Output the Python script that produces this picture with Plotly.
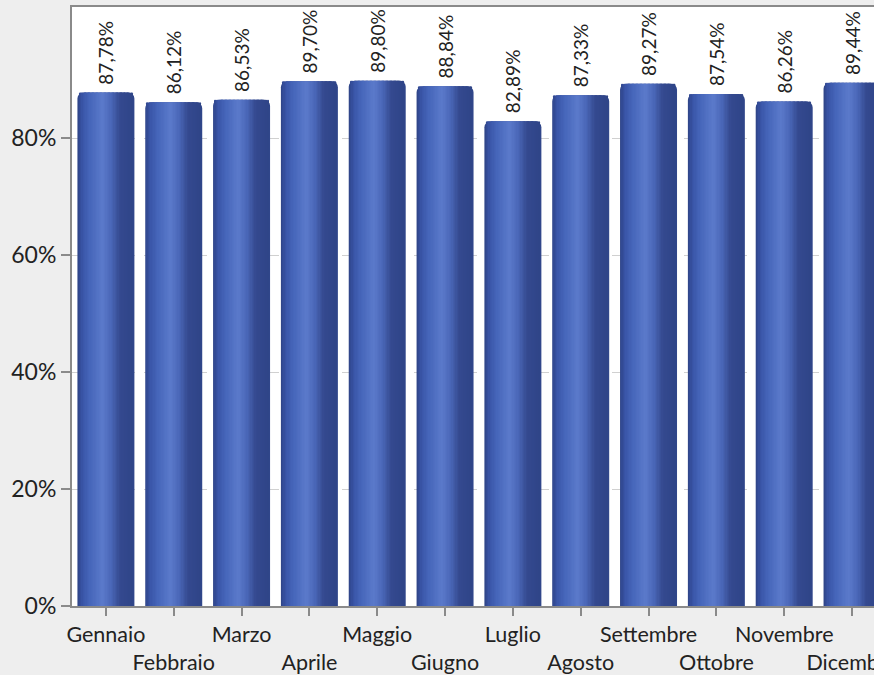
import plotly.graph_objects as go

months = ["Gennaio", "Febbraio", "Marzo", "Aprile", "Maggio", "Giugno",
          "Luglio", "Agosto", "Settembre", "Ottobre", "Novembre", "Dicembre"]
values = [87.78, 86.12, 86.53, 89.70, 89.80, 88.84,
          82.89, 87.33, 89.27, 87.54, 86.26, 89.44]
labels = [" " + f"{v:.2f}".replace(".", ",") + "%" for v in values]
ytick_vals = [0, 20, 40, 60, 80]
ytick_text = ["0%", "20%", "40%", "60%", "80%"]

BAR_W = 0.84

# horizontal gradient stops (fraction across bar, rgb)
stops = [(0.00, (44, 66, 133)), (0.10, (58, 85, 168)), (0.22, (69, 101, 185)),
         (0.45, (91, 122, 203)), (0.60, (74, 103, 184)), (0.76, (52, 73, 143)),
         (1.00, (46, 68, 135))]


def color_at(f):
    for (f0, c0), (f1, c1) in zip(stops[:-1], stops[1:]):
        if f0 <= f <= f1:
            t = (f - f0) / (f1 - f0) if f1 > f0 else 0
            return "rgb(%d,%d,%d)" % tuple(round(a + (b - a) * t) for a, b in zip(c0, c1))
    return "rgb(%d,%d,%d)" % stops[-1][1]


x = list(range(len(months)))
fig = go.Figure()

# outer bar (dark, rounded corners) carrying the labels
fig.add_trace(go.Bar(
    x=x, y=values, width=BAR_W, marker=dict(color=color_at(0.9), cornerradius=6, line=dict(width=0)),
    text=labels, textposition="outside", textangle=-90, constraintext="none",
    textfont=dict(family="Lato", size=19, color="#222222"),
    cliponaxis=False, hoverinfo="skip", showlegend=False,
))

# gradient strips inside
n = 40
f_lo, f_hi = 0.03, 0.97
step = (f_hi - f_lo) / n
for i in range(n):
    fa = f_lo + i * step
    fc = fa + step / 2
    fig.add_trace(go.Bar(
        x=x, y=values, width=step * BAR_W * 1.05, offset=-BAR_W / 2 + fa * BAR_W,
        marker=dict(color=color_at(fc), line=dict(width=0),
                    cornerradius=6 if (fc < 0.12 or fc > 0.88) else 0),
        hoverinfo="skip", showlegend=False,
    ))

fig.update_layout(
    width=874, height=675,
    barmode="overlay",
    paper_bgcolor="#eeeeee", plot_bgcolor="#ffffff",
    margin=dict(l=72, r=0, t=7, b=69, autoexpand=False),
    font=dict(family="Lato", color="#222222"),
    showlegend=False,
)
fig.update_xaxes(
    range=[-0.5, 11.324], tickmode="array", tickvals=x,
    ticktext=[m if i % 2 == 0 else "<br>" + m for i, m in enumerate(months)],
    tickangle=0, ticklabeloverflow="allow", automargin=False,
    tickfont=dict(family="Lato", size=21.5, color="#222222"),
    showline=True, linecolor="#8a8a8a", linewidth=2, mirror=True,
    ticks="outside", ticklen=8, tickcolor="#8a8a8a", tickwidth=1.5,
    showgrid=False, zeroline=False,
)
fig.update_yaxes(
    range=[0, 102.4], tickmode="array", tickvals=ytick_vals, ticktext=ytick_text,
    automargin=False,
    tickfont=dict(family="Lato", size=23, color="#222222"),
    showline=True, linecolor="#8a8a8a", linewidth=2,
    ticks="outside", ticklen=9, tickcolor="#8a8a8a", tickwidth=1.5,
    showgrid=True, gridcolor="#d0d0d0", griddash="dash", gridwidth=1,
    zeroline=False,
)

fig.write_html("out.html", config={"displayModeBar": False},
               post_script="document.body.style.margin='0';document.body.style.overflow='hidden';")
